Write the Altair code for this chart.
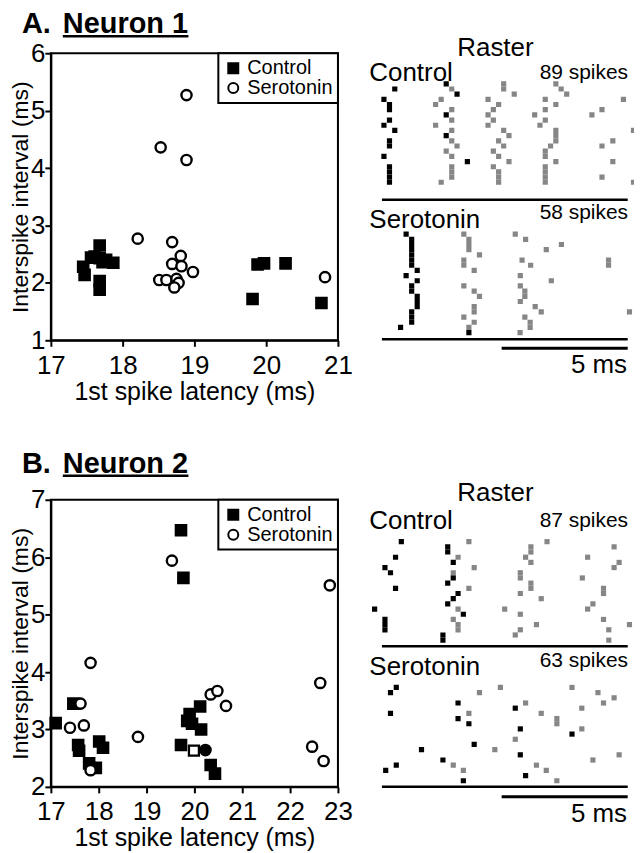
import altair as alt
import pandas as pd

FONT = "Liberation Sans"

# ---------------- scatter data ----------------
A_CTRL_LAT = [17.68, 17.45, 17.47, 17.61, 17.56, 17.68, 17.77, 17.72, 17.87, 17.68, 17.68,
              19.88, 19.97, 20.27, 19.81, 20.77]
A_CTRL_ISI = [2.65, 2.28, 2.14, 2.46, 2.44, 2.43, 2.40, 2.36, 2.35, 2.03, 1.88,
              2.32, 2.34, 2.34, 1.72, 1.65]
A_SERO_LAT = [18.89, 18.53, 18.89, 18.21, 18.69, 18.81, 18.69, 18.82, 18.98, 18.51, 18.61,
              18.75, 18.78, 18.72, 20.82]
A_SERO_ISI = [5.27, 4.36, 4.14, 2.77, 2.71, 2.47, 2.33, 2.29, 2.19, 2.05, 2.05,
              2.07, 2.00, 1.92, 2.10]
A_X_TICKS = [17, 18, 19, 20, 21]
A_Y_TICKS = [1, 2, 3, 4, 5, 6]

B_CTRL_LAT = [19.72, 19.77, 17.47, 17.10, 17.57, 17.59, 17.80, 17.94, 18.01, 18.09,
              19.90, 20.12, 19.85, 19.95, 20.14, 19.72, 20.34, 20.43]
B_CTRL_ISI = [6.47, 5.64, 3.45, 3.11, 2.73, 2.63, 2.41, 2.33, 2.79, 2.68,
              3.27, 3.40, 3.15, 3.10, 3.00, 2.73, 2.38, 2.23]
B_SERO_LAT = [19.53, 22.83, 17.83, 17.62, 17.40, 17.69, 17.83, 18.82, 20.34, 20.48,
              20.66, 22.63, 22.46, 22.70]
B_SERO_ISI = [5.94, 5.51, 4.16, 3.45, 3.03, 3.07, 2.29, 2.87, 3.61, 3.67,
              3.41, 3.81, 2.70, 2.45]
B_HL_CTRL_LAT = [19.99]
B_HL_CTRL_ISI = [2.63]
B_HL_SERO_LAT = [20.23]
B_HL_SERO_ISI = [2.64]
B_X_TICKS = [17, 18, 19, 20, 21, 22, 23]
B_Y_TICKS = [2, 3, 4, 5, 6, 7]

# ---------------- raster data (time in ms, trial index) ----------------
A_CTRL_SPIKES = 89
A_SERO_SPIKES = 58
B_CTRL_SPIKES = 87
B_SERO_SPIKES = 63

A_CTRL_FIRST_T = [2.55, 0.51, 2.98, 0.08, 0.30, 0.30, 2.55, 0.30, 0.08, 0.51, 2.55, 0.30, 0.30,
                  0.08, 3.39, 0.30, 0.30, 0.30, 0.30]
A_CTRL_FIRST_TRIAL = [0, 1, 2, 3, 4, 5, 6, 7, 8, 9, 10, 11, 12, 14, 15, 16, 17, 18, 19]
A_CTRL_LATER_T = [2.77, 2.35, 2.13, 2.77, 2.77, 2.13, 2.77, 2.77, 2.98, 2.55, 2.77, 2.77, 2.77, 2.77, 2.35,
                  4.83, 4.83, 5.25, 4.21, 4.63, 4.42, 4.21, 4.42, 4.21, 4.83, 5.04, 4.63, 4.83, 4.42, 4.63,
                  5.04, 4.42, 4.63, 4.63, 4.63,
                  6.90, 7.11, 7.33, 6.48, 6.90, 6.48, 6.06, 6.48, 6.27, 6.90, 6.90, 6.90, 6.69, 6.48, 6.48,
                  6.90, 6.48, 6.48, 6.48, 6.48,
                  9.58, 8.73, 8.33, 10.15, 9.98, 9.16, 8.73, 9.16, 8.73, 9.98]
A_CTRL_LATER_TRIAL = [1, 3, 4, 5, 7, 8, 9, 11, 12, 13, 14, 16, 17, 18, 19,
                      0, 1, 2, 3, 4, 5, 6, 7, 8, 9, 10, 11, 12, 13, 14, 15, 16, 17, 18, 19,
                      0, 1, 2, 3, 4, 5, 6, 7, 8, 9, 10, 11, 12, 13, 14, 15, 16, 17, 18, 19,
                      3, 5, 6, 7, 9, 11, 12, 15, 18, 19]

A_SERO_FIRST_T = [0.96, 1.18, 1.18, 1.18, 1.18, 1.18, 1.18, 1.40, 0.96, 1.40, 1.18, 1.18, 1.40,
                  1.40, 1.40, 1.18, 1.18, 1.18, 0.74, 3.45]
A_SERO_FIRST_TRIAL = [0, 1, 2, 3, 4, 5, 6, 7, 8, 9, 10, 11, 12, 13, 14, 15, 16, 17, 18, 19]
A_SERO_LATER_T = [3.25, 3.45, 3.45, 3.45, 3.87, 3.25, 3.25, 3.66, 3.25, 3.66, 3.87, 3.66, 3.66, 3.25,
                  3.66, 3.45,
                  5.29, 5.70, 5.56, 5.90, 5.49, 5.49, 5.67, 5.67, 5.49, 6.08, 6.32, 5.67, 5.88, 5.88, 5.48,
                  7.12, 6.52, 8.99, 8.99, 6.72, 9.82]
A_SERO_LATER_TRIAL = [0, 1, 2, 3, 4, 5, 6, 7, 10, 11, 12, 14, 15, 16, 17, 18,
                      0, 1, 5, 6, 8, 10, 11, 12, 13, 14, 15, 16, 17, 18, 19,
                      2, 3, 5, 6, 9, 15]

B_CTRL_FIRST_T = [0.77, 2.61, 2.61, 0.54, 2.83, 0.12, 0.34, 2.83, 2.61, 0.54, 3.02, 2.83, 2.61,
                  -0.29, 3.23, 0.12, 0.12, 0.12, 2.42, 2.42]
B_CTRL_FIRST_TRIAL = [0, 1, 2, 3, 4, 5, 6, 7, 8, 9, 10, 11, 12, 13, 14, 15, 16, 17, 18, 19]
B_CTRL_LATER_T = [3.45, 3.02, 3.66, 2.83, 3.45, 3.02, 2.83, 3.02, 3.02,
                  6.55, 5.91, 5.91, 5.70, 5.91, 5.49, 5.49, 5.91, 5.91, 5.49, 6.32, 4.87, 5.49, 6.13,
                  5.49, 5.29,
                  9.21, 8.16, 9.41, 9.21, 7.95, 8.79, 8.79, 8.37, 8.16, 8.79, 9.82, 9.00, 9.00]
B_CTRL_LATER_TRIAL = [0, 3, 5, 6, 9, 13, 15, 16, 17,
                      0, 1, 2, 3, 4, 6, 7, 8, 9, 10, 11, 13, 14, 16, 17, 18,
                      1, 3, 4, 5, 7, 9, 10, 12, 13, 15, 16, 17, 19]

B_SERO_FIRST_T = [0.57, 0.34, 3.02, 5.29, 0.34, 3.02, 3.45, 5.49, 7.54, 3.66, 1.57, 5.49, 2.42,
                  0.57, 0.15, 5.70, 3.23]
B_SERO_FIRST_TRIAL = [0, 1, 3, 4, 5, 6, 7, 8, 9, 11, 12, 13, 14, 15, 16, 17, 18]
B_SERO_LATER_T = [4.70, 7.54, 3.87, 8.57, 9.21, 5.70, 8.79, 7.93, 3.45, 6.32, 6.94, 6.94, 7.93, 5.29,
                  4.48, 9.41, 8.37, 2.83, 6.13, 3.23, 6.52, 6.94]
B_SERO_LATER_TRIAL = [0, 0, 1, 1, 2, 3, 3, 4, 5, 5, 6, 7, 8, 10, 12, 13, 14, 15, 15, 16, 16, 18]

SWEEP_END_MS = 9.75
SCALE_BAR_MS = 5

# ---------------- layout / style ----------------
SC_W = 288
PANEL_H = 288
RA_W = 263
RA_X_DOMAIN = [-0.4, 10.0]
RA_Y_DOMAIN = [0, 55.38]
GRAY = "#868686"
ONE = pd.DataFrame({"d": [0]})
CONDS = ["Control", "Serotonin"]


def txt(s, x, y, size, align="left", weight="normal"):
    return alt.Chart(pd.DataFrame({"s": [s]})).mark_text(
        font=FONT, fontSize=size, fontWeight=weight, align=align,
        baseline="alphabetic", color="black"
    ).encode(text="s:N", x=alt.value(x), y=alt.value(y))


def scatter(ctrl_lat, ctrl_isi, sero_lat, sero_isi, xticks, yticks, letter, name,
            title_y, hl=None):
    df = pd.DataFrame({
        "lat": ctrl_lat + sero_lat,
        "isi": ctrl_isi + sero_isi,
        "cond": ["Control"] * len(ctrl_lat) + ["Serotonin"] * len(sero_lat),
    })
    xsc = alt.Scale(domain=[xticks[0], xticks[-1]], nice=False, zero=False)
    ysc = alt.Scale(domain=[yticks[0], yticks[-1]], nice=False, zero=False)
    common = dict(grid=False, domainColor="black", domainWidth=2, tickColor="black",
                  tickWidth=2, tickSize=6, labelFont=FONT, labelFontSize=26,
                  labelColor="black", labelFlush=False, labelOverlap=False,
                  titleFont=FONT, titleFontWeight="normal", titleColor="black", format="d")
    xax = alt.Axis(values=xticks, title="1st spike latency (ms)", labelPadding=6,
                   titleFontSize=25, titlePadding=1, **common)
    yax = alt.Axis(values=yticks, title="Interspike interval (ms)", labelPadding=0,
                   titleFontSize=23, titlePadding=-2, **common)
    legend = alt.Legend(title=None, orient="top-right", offset=0, fillColor="white",
                        strokeColor="black", padding=5, labelFont=FONT, labelFontSize=20,
                        labelColor="black", symbolSize=100, symbolStrokeColor="black",
                        symbolStrokeWidth=2, labelOffset=4, rowPadding=0)
    pts = alt.Chart(df).mark_point(size=105, strokeWidth=2.4, opacity=1).encode(
        x=alt.X("lat:Q", scale=xsc, axis=xax),
        y=alt.Y("isi:Q", scale=ysc, axis=yax),
        shape=alt.Shape("cond:N", scale=alt.Scale(domain=CONDS, range=["square", "circle"]),
                        legend=legend),
        fill=alt.Fill("cond:N", scale=alt.Scale(domain=CONDS, range=["black", "white"]),
                      legend=legend),
        stroke=alt.Stroke("cond:N", scale=alt.Scale(domain=CONDS, range=["black", "black"]),
                          legend=legend),
    )
    layers = [pts]
    if hl is not None:
        hc = pd.DataFrame({"lat": hl[0], "isi": hl[1]})
        hs = pd.DataFrame({"lat": hl[2], "isi": hl[3]})
        layers.append(alt.Chart(hc).mark_point(shape="square", size=100, fill="white",
                                               stroke="black", strokeWidth=2.3, opacity=1)
                      .encode(x="lat:Q", y="isi:Q"))
        layers.append(alt.Chart(hs).mark_point(shape="circle", size=110, fill="black",
                                               stroke="black", strokeWidth=2.3, opacity=1)
                      .encode(x="lat:Q", y="isi:Q"))
    layers.append(txt(letter, -29, title_y, 29, weight="bold"))
    layers.append(txt(name, 12, title_y, 29, weight="bold"))
    layers.append(alt.Chart(ONE).mark_rule(color="black", strokeWidth=2.5).encode(
        x=alt.value(12), x2=alt.value(138), y=alt.value(title_y + 3)))
    return alt.layer(*layers).properties(width=SC_W, height=PANEL_H)


def raster(cf_t, cf_k, cl_t, cl_k, sf_t, sf_k, sl_t, sl_k, n_ctrl, n_sero, c0, s0, ann):
    df = pd.DataFrame({
        "t": cf_t + cl_t + sf_t + sl_t,
        "trial": cf_k + cl_k + sf_k + sl_k,
        "cond": ["Control"] * (len(cf_t) + len(cl_t)) + ["Serotonin"] * (len(sf_t) + len(sl_t)),
        "kind": ["first"] * len(cf_t) + ["later"] * len(cl_t) + ["first"] * len(sf_t) + ["later"] * len(sl_t),
    })
    xsc = alt.Scale(domain=RA_X_DOMAIN, nice=False, zero=False)
    dots = alt.Chart(df).transform_calculate(
        pos=f"datum.cond == 'Control' ? {c0} + datum.trial : {s0} + datum.trial"
    ).mark_square(size=27, opacity=1, clip=True).encode(
        x=alt.X("t:Q", scale=xsc, axis=None),
        y=alt.Y("pos:Q", scale=alt.Scale(domain=RA_Y_DOMAIN, reverse=True, nice=False, zero=False),
                axis=None),
        color=alt.Color("kind:N", scale=alt.Scale(domain=["first", "later"], range=["black", GRAY]),
                        legend=None),
    )

    def hline(y, t0, t1, w=2.5):
        return alt.Chart(ONE).mark_rule(color="black", strokeWidth=w).encode(
            x=alt.datum(t0), x2=alt.datum(t1), y=alt.value(y))

    layers = [
        dots,
        hline(ann["line1"], 0, SWEEP_END_MS),
        hline(ann["line2"], 0, SWEEP_END_MS),
        hline(ann["bar"], SWEEP_END_MS - SCALE_BAR_MS, SWEEP_END_MS, 3),
        txt("Raster", 124, ann["raster"], 26, align="center"),
        txt("Control", -2.5, ann["ctrl"], 26),
        txt(f"{n_ctrl} spikes", 257, ann["ctrl_n"], 21, align="right"),
        txt("Serotonin", -2.5, ann["sero"], 26),
        txt(f"{n_sero} spikes", 257, ann["sero_n"], 21, align="right"),
        txt(f"{SCALE_BAR_MS} ms", 256, ann["ms"], 26, align="right"),
    ]
    return alt.layer(*layers).properties(
        width=RA_W, height=PANEL_H, view=alt.ViewBackground(stroke="transparent"))


scA = scatter(A_CTRL_LAT, A_CTRL_ISI, A_SERO_LAT, A_SERO_ISI, A_X_TICKS, A_Y_TICKS,
              "A.", "Neuron 1", -20)
scB = scatter(B_CTRL_LAT, B_CTRL_ISI, B_SERO_LAT, B_SERO_ISI, B_X_TICKS, B_Y_TICKS,
              "B.", "Neuron 2", -27,
              hl=(B_HL_CTRL_LAT, B_HL_CTRL_ISI, B_HL_SERO_LAT, B_HL_SERO_ISI))

raA = raster(A_CTRL_FIRST_T, A_CTRL_FIRST_TRIAL, A_CTRL_LATER_T, A_CTRL_LATER_TRIAL,
             A_SERO_FIRST_T, A_SERO_FIRST_TRIAL, A_SERO_LATER_T, A_SERO_LATER_TRIAL,
             A_CTRL_SPIKES, A_SERO_SPIKES, 5.9, 34.9,
             dict(raster=3, ctrl=28, ctrl_n=26, line1=147, sero=175, sero_n=166,
                  line2=287, bar=296, ms=321))
raB = raster(B_CTRL_FIRST_T, B_CTRL_FIRST_TRIAL, B_CTRL_LATER_T, B_CTRL_LATER_TRIAL,
             B_SERO_FIRST_T, B_SERO_FIRST_TRIAL, B_SERO_LATER_T, B_SERO_LATER_TRIAL,
             B_CTRL_SPIKES, B_SERO_SPIKES, 8.08, 36.2,
             dict(raster=1, ctrl=29, ctrl_n=27, line1=147, sero=176, sero_n=168,
                  line2=288, bar=298, ms=323))

chart = alt.concat(
    scA, raA, scB, raB, columns=2, spacing={"row": 160, "column": 34}, bounds="flush"
).resolve_scale(
    shape="independent", fill="independent", stroke="independent", color="independent"
).resolve_legend(
    shape="independent", fill="independent", stroke="independent"
).configure_view(
    stroke="black", strokeWidth=2
).configure_legend(
    strokeWidth=2
).properties(
    padding={"left": 0, "top": 0, "right": 0, "bottom": 0},
    background="white",
)

chart.save("out.html", embed_options={"renderer": "svg", "actions": False})
